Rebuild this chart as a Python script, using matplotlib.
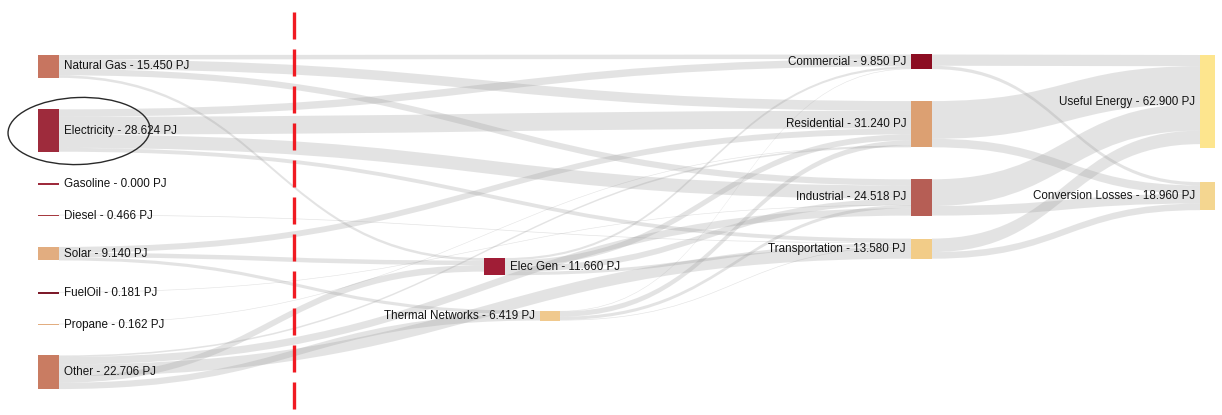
import matplotlib
matplotlib.use("Agg")
import matplotlib.pyplot as plt
from matplotlib.path import Path
from matplotlib.patches import PathPatch, Rectangle, Ellipse

plt.rcParams["font.family"] = ["Liberation Sans", "DejaVu Sans"]

# ---- energy balance (PJ) ----
source_names = ["Natural Gas", "Electricity", "Gasoline", "Diesel",
                "Solar", "FuelOil", "Propane", "Other"]
source_values = [15.450, 28.624, 0.000, 0.466, 9.140, 0.181, 0.162, 22.706]

conversion_names = ["Elec Gen", "Thermal Networks"]
conversion_values = [11.660, 6.419]

sector_names = ["Commercial", "Residential", "Industrial", "Transportation"]
sector_values = [9.850, 31.240, 24.518, 13.580]

output_names = ["Useful Energy", "Conversion Losses"]
output_values = [62.900, 18.960]

flow_from = [
    "Natural Gas", "Natural Gas", "Natural Gas", "Natural Gas",
    "Electricity", "Electricity", "Electricity", "Electricity",
    "Diesel",
    "Solar", "Solar", "Solar",
    "FuelOil", "Propane",
    "Other", "Other", "Other", "Other", "Other",
    "Elec Gen", "Elec Gen", "Elec Gen", "Elec Gen",
    "Thermal Networks", "Thermal Networks", "Thermal Networks", "Thermal Networks",
    "Commercial", "Commercial", "Residential", "Residential",
    "Industrial", "Industrial", "Transportation", "Transportation",
]
flow_to = [
    "Commercial", "Residential", "Industrial", "Elec Gen",
    "Commercial", "Residential", "Industrial", "Transportation",
    "Transportation",
    "Residential", "Elec Gen", "Thermal Networks",
    "Industrial", "Residential",
    "Residential", "Industrial", "Transportation", "Elec Gen", "Thermal Networks",
    "Commercial", "Residential", "Industrial", "Transportation",
    "Commercial", "Residential", "Industrial", "Transportation",
    "Useful Energy", "Conversion Losses", "Useful Energy", "Conversion Losses",
    "Useful Energy", "Conversion Losses", "Useful Energy", "Conversion Losses",
]
flow_values = [
    3.000, 6.500, 4.200, 1.750,
    5.000, 12.000, 9.000, 2.624,
    0.466,
    4.000, 3.000, 2.140,
    0.181, 0.162,
    1.078, 5.000, 7.898, 4.451, 4.279,
    1.500, 4.000, 4.000, 2.160,
    0.350, 3.500, 2.137, 0.432,
    7.600, 2.250, 25.500, 5.740,
    18.000, 6.518, 9.128, 4.452,
]

# ---- styling ----
node_colors = {
    "Natural Gas": "#c77560", "Electricity": "#9e2b3c", "Gasoline": "#9e2b3c",
    "Diesel": "#a63a40", "Solar": "#e2ad80", "FuelOil": "#7d1a2a",
    "Propane": "#e2ad80", "Other": "#c97c62",
    "Elec Gen": "#a01d36", "Thermal Networks": "#f0c98e",
    "Commercial": "#8c0d22", "Residential": "#dca072", "Industrial": "#b65e55",
    "Transportation": "#f2cc88",
    "Useful Energy": "#fde58e", "Conversion Losses": "#f4d690",
}
PX_PER_PJ = 1.48
MIN_NODE_PX = 1.6
LINK_COLOR = "#9a9a9a"
LINK_ALPHA = 0.27
TEXT_COLOR = "#141414"
FONT_SIZE = 8.4


def stack(names, values, top, gaps):
    """Place nodes of one column top to bottom with the given gaps."""
    pos, y = {}, top
    for i, (n, v) in enumerate(zip(names, values)):
        pos[n] = y
        y += v * PX_PER_PJ
        if i < len(gaps):
            y += gaps[i]
    return pos


# column layout: x, width, first top, gaps, label side
columns = [
    (source_names, source_values, 38, 21, 55.0, [31.5] * 7, "right"),
    (conversion_names[:1], conversion_values[:1], 484, 21, 258.0, [], "right"),
    (conversion_names[1:], conversion_values[1:], 540, 20, 311.0, [], "left"),
    (sector_names, sector_values, 911, 21, 54.5, [32, 32, 23], "left"),
    (output_names, output_values, 1200, 15, 55.0, [34], "left"),
]

nodes = {}
for names, values, x, w, top, gaps, side in columns:
    tops = stack(names, values, top, gaps)
    for n, v in zip(names, values):
        nodes[n] = dict(x=x, w=w, y=tops[n], h=v * PX_PER_PJ, v=v, side=side)

fig = plt.figure(figsize=(12.22, 4.15), dpi=100)
ax = fig.add_axes([0, 0, 1, 1])
ax.set_xlim(0, 1222)
ax.set_ylim(415, 0)
ax.axis("off")

# ---- links: order within each node like d3-sankey ----
links = [dict(s=s, t=t, v=v) for s, t, v in zip(flow_from, flow_to, flow_values) if v > 0]
for n in nodes:
    out_links = sorted([l for l in links if l["s"] == n], key=lambda l: nodes[l["t"]]["y"])
    y = nodes[n]["y"]
    for l in out_links:
        l["y0"] = y
        y += l["v"] * PX_PER_PJ
    in_links = sorted([l for l in links if l["t"] == n], key=lambda l: nodes[l["s"]]["y"])
    y = nodes[n]["y"]
    for l in in_links:
        l["y1"] = y
        y += l["v"] * PX_PER_PJ

for l in links:
    s, t = nodes[l["s"]], nodes[l["t"]]
    x0 = s["x"] + s["w"]
    x1 = t["x"]
    xm = (x0 + x1) / 2
    h = max(l["v"] * PX_PER_PJ, 0.6)
    a0, a1 = l["y0"], l["y1"]
    verts = [(x0, a0), (xm, a0), (xm, a1), (x1, a1),
             (x1, a1 + h), (xm, a1 + h), (xm, a0 + h), (x0, a0 + h), (x0, a0)]
    codes = [Path.MOVETO, Path.CURVE4, Path.CURVE4, Path.CURVE4,
             Path.LINETO, Path.CURVE4, Path.CURVE4, Path.CURVE4, Path.CLOSEPOLY]
    ax.add_patch(PathPatch(Path(verts, codes), facecolor=LINK_COLOR,
                           edgecolor="none", alpha=LINK_ALPHA, zorder=1))

# ---- nodes and labels ----
for n, d in nodes.items():
    h = max(d["h"], MIN_NODE_PX)
    ax.add_patch(Rectangle((d["x"], d["y"]), d["w"], h, facecolor=node_colors[n],
                           edgecolor="none", zorder=3))
    label = f"{n} - {d['v']:.3f} PJ"
    yc = d["y"] + h / 2
    if d["side"] == "right":
        ax.text(d["x"] + d["w"] + 4.5, yc, label, ha="left", va="center",
                fontsize=FONT_SIZE, color=TEXT_COLOR, zorder=4)
    else:
        ax.text(d["x"] - 5, yc, label, ha="right", va="center",
                fontsize=FONT_SIZE, color=TEXT_COLOR, zorder=4)

# highlight ring around the electricity source
ax.add_patch(Ellipse((79, 131), 142, 67, angle=-2, facecolor="none",
                     edgecolor="#2a2a2a", lw=1.0, zorder=5))

# divider between supply and conversion
ax.plot([294, 294], [12, 415], color="#f01a22", lw=2.4, dashes=(8.1, 3.0),
        solid_capstyle="butt", dash_capstyle="butt", zorder=6)

fig.savefig("out.png", dpi=100)
